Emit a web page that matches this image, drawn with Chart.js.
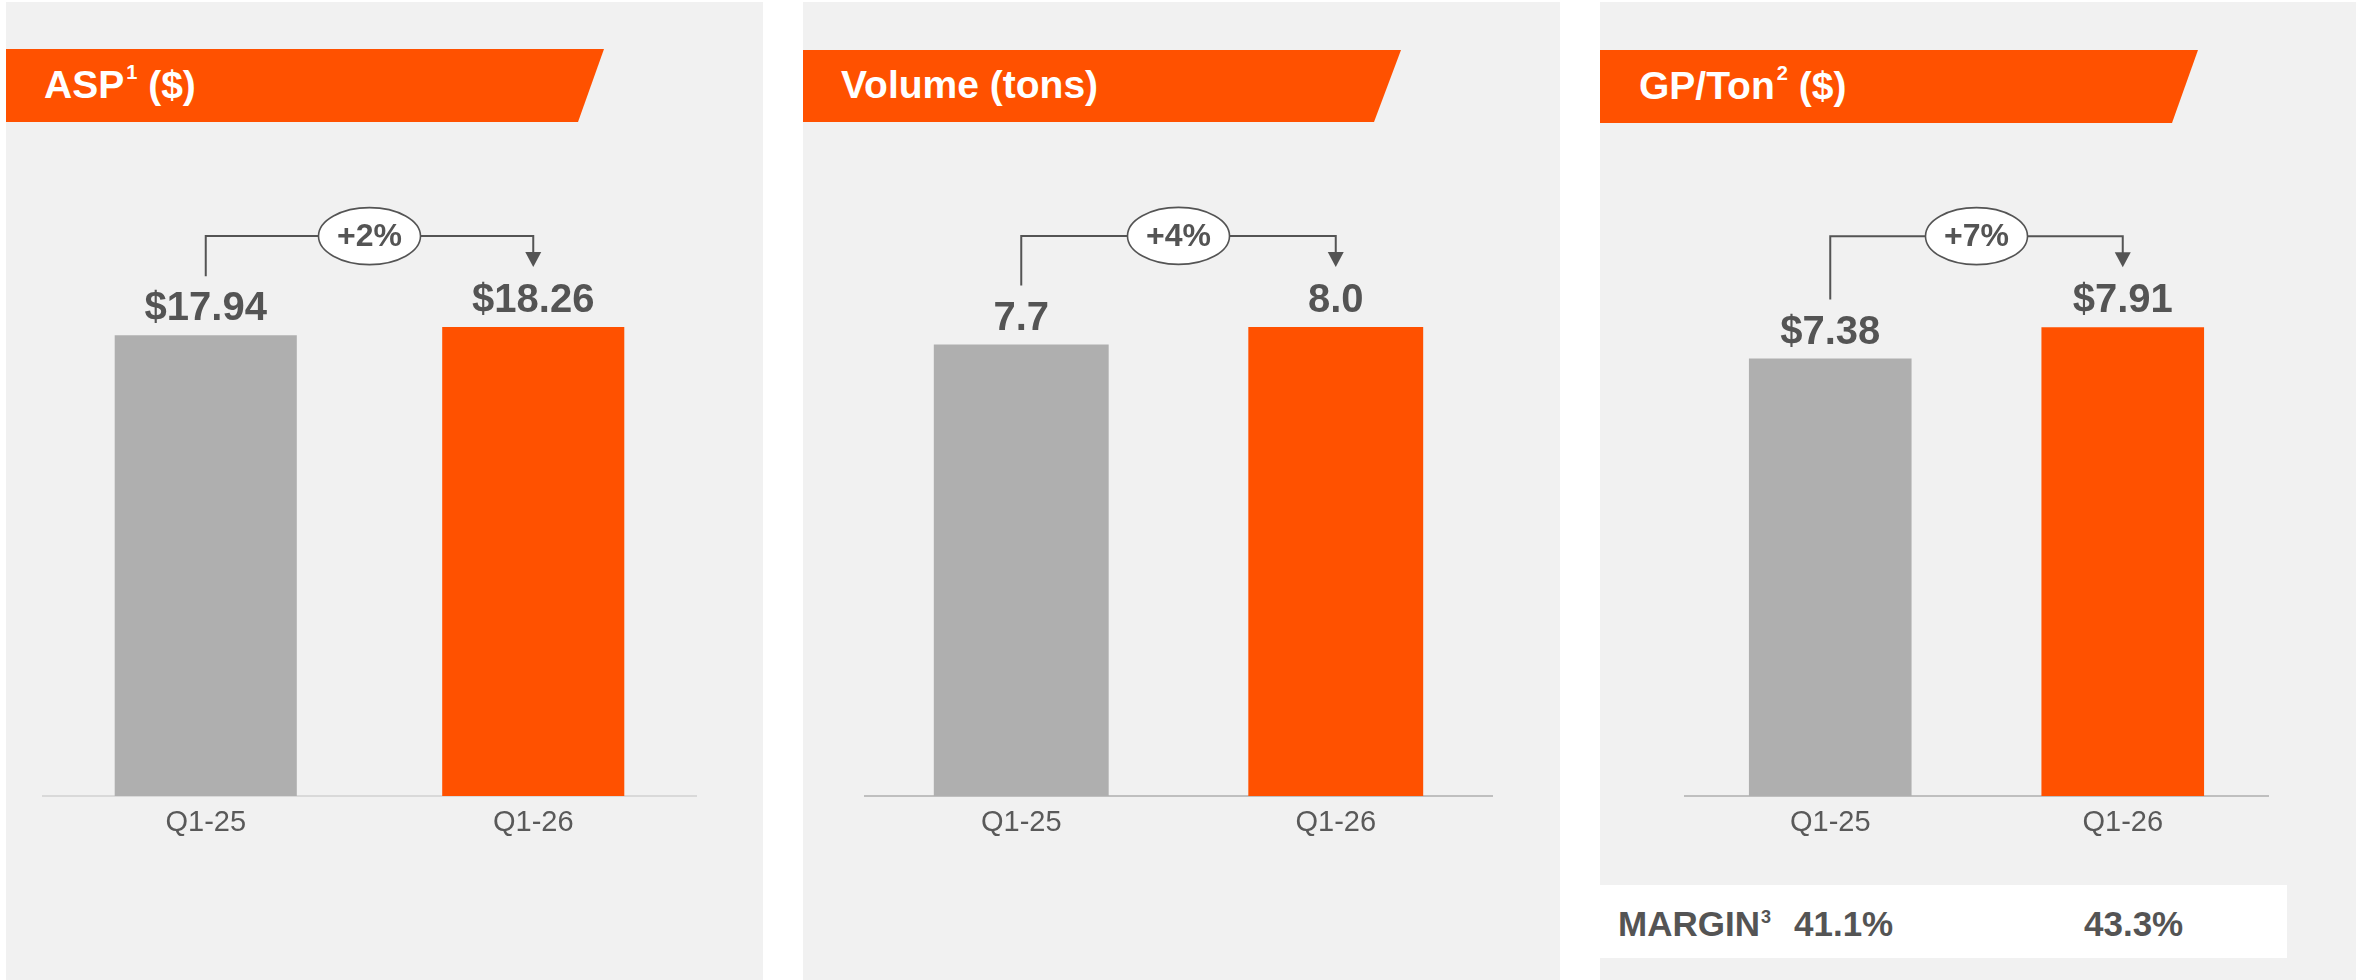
<!DOCTYPE html>
<html>
<head>
<meta charset="utf-8">
<script src="https://cdn.jsdelivr.net/npm/chart.js@4.4.1/dist/chart.umd.min.js"></script>
<style>
  html, body { margin:0; padding:0; background:#ffffff; }
  body { width:2356px; height:980px; position:relative; overflow:hidden;
         font-family:"Liberation Sans",Arial,sans-serif; }
  .panel { position:absolute; background:#f1f1f1; }
  .banner { position:absolute; background:#ff5100; }
  .title { position:absolute; color:#ffffff; font-weight:bold; font-size:39px; line-height:1; white-space:nowrap; }
  .title sup { font-size:20px; vertical-align:top; position:relative; top:-3px; margin-left:2px; }
  canvas { position:absolute; }
  .mbox { position:absolute; background:#ffffff; }
  .mtxt { position:absolute; color:#545454; font-weight:bold; font-size:35px; line-height:1; white-space:nowrap; }
  .mtxt sup { font-size:18px; vertical-align:top; position:relative; top:2px; margin-left:1px; }
</style>
</head>
<body>
<div class="panel" style="left:6px;top:2px;width:757px;height:978px;"></div>
<div class="panel" style="left:803px;top:2px;width:757px;height:978px;"></div>
<div class="panel" style="left:1600px;top:2px;width:756px;height:978px;"></div>

<div class="banner" style="left:6px;top:49px;width:598px;height:73px;clip-path:polygon(0 0,100% 0,572px 100%,0 100%);"></div>
<div class="banner" style="left:803px;top:50px;width:598px;height:72px;clip-path:polygon(0 0,100% 0,571px 100%,0 100%);"></div>
<div class="banner" style="left:1600px;top:50px;width:598px;height:73px;clip-path:polygon(0 0,100% 0,572px 100%,0 100%);"></div>

<div class="title" id="t0" style="left:44px;top:65px;"></div>
<div class="title" id="t1" style="left:841px;top:65px;"></div>
<div class="title" id="t2" style="left:1639px;top:66px;"></div>

<canvas id="c0" width="655" height="756" style="left:42px;top:100px;width:655px;height:756px;"></canvas>
<canvas id="c1" width="629" height="756" style="left:864px;top:100px;width:629px;height:756px;"></canvas>
<canvas id="c2" width="585" height="756" style="left:1684px;top:100px;width:585px;height:756px;"></canvas>

<div class="mbox" style="left:1600px;top:885px;width:687px;height:73px;"></div>
<div class="mtxt" id="mlab" style="left:1618px;top:906px;"></div>
<div class="mtxt" id="m0" style="left:1794px;top:906px;"></div>
<div class="mtxt" id="m1" style="left:2084px;top:906px;"></div>

<script>
// ---- data ----
const categories = ['Q1-25', 'Q1-26'];
const aspValues = [17.94, 18.26];
const volumeValues = [7.7, 8.0];
const gpTonValues = [7.38, 7.91];
const aspLabels = ['$17.94', '$18.26'];
const volumeLabels = ['7.7', '8.0'];
const gpTonLabels = ['$7.38', '$7.91'];
const panelTitles = ['ASP', 'Volume (tons)', 'GP/Ton'];
const titleNotes = ['1', '', '2'];
const titleSuffix = ['($)', '', '($)'];
const marginLabel = 'MARGIN';
const marginNote = '3';
const marginValues = ['41.1%', '43.3%'];
const yMax = [25, 11, 11];

// ---- titles ----
for (let i = 0; i < 3; i++) {
  const el = document.getElementById('t' + i);
  el.innerHTML = panelTitles[i] + (titleNotes[i] ? '<sup>' + titleNotes[i] + '</sup>' : '') + (titleSuffix[i] ? ' ' + titleSuffix[i] : '');
}
document.getElementById('mlab').innerHTML = marginLabel + '<sup>' + marginNote + '</sup>';
document.getElementById('m0').textContent = marginValues[0];
document.getElementById('m1').textContent = marginValues[1];

const FONT = '"Liberation Sans",Arial,sans-serif';
const DARK = '#545454';

const annotPlugin = {
  id: 'annot',
  afterDatasetsDraw(chart) {
    const ctx = chart.ctx;
    const meta = chart.getDatasetMeta(0);
    const labels = chart.options.plugins.annot.labels;
    const vals = chart.data.datasets[0].data;
    const b0 = meta.data[0], b1 = meta.data[1];
    ctx.save();
    // value labels
    ctx.fillStyle = DARK;
    ctx.font = 'bold 40px ' + FONT;
    ctx.textAlign = 'center';
    ctx.textBaseline = 'alphabetic';
    meta.data.forEach((b, i) => { ctx.fillText(labels[i], b.x, b.y - 15); });
    // bracket
    const level = Math.min(b0.y, b1.y) - 91;
    const leftBottom = b0.y - 59;
    const tip = b1.y - 60;
    const cx = (b0.x + b1.x) / 2;
    ctx.strokeStyle = DARK;
    ctx.lineWidth = 2;
    ctx.beginPath();
    ctx.moveTo(b0.x, leftBottom);
    ctx.lineTo(b0.x, level);
    ctx.lineTo(b1.x, level);
    ctx.lineTo(b1.x, tip - 14);
    ctx.stroke();
    ctx.fillStyle = DARK;
    ctx.beginPath();
    ctx.moveTo(b1.x - 8, tip - 15);
    ctx.lineTo(b1.x + 8, tip - 15);
    ctx.lineTo(b1.x, tip);
    ctx.closePath();
    ctx.fill();
    // ellipse
    ctx.beginPath();
    ctx.ellipse(cx, level, 51, 28.5, 0, 0, Math.PI * 2);
    ctx.fillStyle = '#ffffff';
    ctx.fill();
    ctx.lineWidth = 1.6;
    ctx.stroke();
    const pct = Math.round((vals[1] / vals[0] - 1) * 100);
    ctx.fillStyle = DARK;
    ctx.font = 'bold 32px ' + FONT;
    ctx.textBaseline = 'middle';
    ctx.fillText('+' + pct + '%', cx, level + 1);
    ctx.restore();
  }
};

function makeChart(id, values, labels, max, padTop, axisColor) {
  return new Chart(document.getElementById(id), {
    type: 'bar',
    data: {
      labels: categories,
      datasets: [{
        data: values,
        backgroundColor: ['#afafaf', '#ff5100'],
        borderWidth: 0,
        categoryPercentage: 1.0,
        barPercentage: 0.556
      }]
    },
    options: {
      responsive: false,
      devicePixelRatio: 1,
      animation: false,
      layout: { padding: { top: padTop, left: 0, right: 0, bottom: 0 } },
      plugins: { legend: { display: false }, tooltip: { enabled: false }, annot: { labels: labels } },
      scales: {
        y: { display: false, min: 0, max: max },
        x: {
          grid: { display: false, drawTicks: false },
          border: { display: true, color: axisColor, width: 2 },
          ticks: { color: '#595959', font: { family: FONT, size: 29 }, padding: 10 },
          afterFit: s => { s.height = 60; }
        }
      }
    },
    plugins: [annotPlugin]
  });
}

makeChart('c0', aspValues, aspLabels, yMax[0], 54, '#d9d9d9');
makeChart('c1', volumeValues, volumeLabels, yMax[1], 51, '#bfbfbf');
makeChart('c2', gpTonValues, gpTonLabels, yMax[2], 44, '#bfbfbf');
</script>
</body>
</html>
